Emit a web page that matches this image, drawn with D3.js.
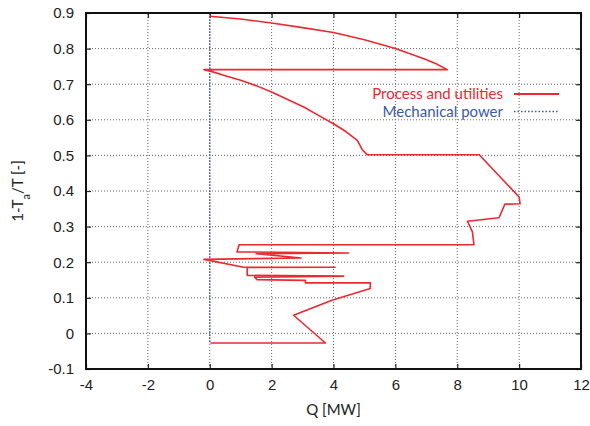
<!DOCTYPE html>
<html>
<head>
<meta charset="utf-8">
<script src="https://cdn.jsdelivr.net/npm/d3@7"></script>
<style>
  body { margin: 0; background: #fff; }
  svg { font-family: Lato, "Open Sans", sans-serif; }
</style>
</head>
<body>
<div id="container"></div>
<script>
// chart data
const processQ = [0, 1.0, 2.0, 3.0, 4.0, 5.0, 6.0, 6.9, 7.3, 7.68, -0.19, 0.05, 0.5, 1.0, 1.5, 2.0, 2.5, 3.04, 3.5, 4.0, 4.4, 4.77, 4.93, 5.09,
  8.71, 10.0, 10.03, 9.54, 9.35, 8.33, 8.49, 8.54, 0.95, 0.88, 4.49, 1.5, 2.95, -0.19,
  1.10, 4.05, 1.21, 1.21, 4.33, 1.45, 1.53, 3.09, 3.09, 5.19, 5.19, 3.95, 2.71, 3.74, 0.02];
const processT = [0.891, 0.883, 0.872, 0.859, 0.845, 0.825, 0.800, 0.772, 0.758, 0.741, 0.741, 0.736, 0.724, 0.711, 0.696, 0.678, 0.658, 0.636, 0.613, 0.589, 0.567, 0.542, 0.516, 0.502,
  0.502, 0.383, 0.364, 0.363, 0.325, 0.315, 0.285, 0.249, 0.249, 0.229, 0.226, 0.224, 0.212, 0.208,
  0.186, 0.186, 0.185, 0.163, 0.161, 0.158, 0.151, 0.149, 0.142, 0.142, 0.126, 0.093, 0.051, -0.027, -0.027];
const mechQ = [0, 0];
const mechT = [0.891, -0.027];
const xTicks = [-4, -2, 0, 2, 4, 6, 8, 10, 12];
const yTicks = [-0.1, 0, 0.1, 0.2, 0.3, 0.4, 0.5, 0.6, 0.7, 0.8, 0.9];
const legendNames = ['Process and utilities', 'Mechanical power'];

// svg dimensions
const w = 590;
const h = 426;
const m = { top: 13, right: 9, bottom: 57, left: 86 };
const red = '#ec2830';
const blue = '#3c59a8';

const svg = d3.select('#container')
  .append('svg')
  .attr('width', w)
  .attr('height', h);

// scales
const xScale = d3.scaleLinear().domain([-4, 12]).range([m.left, w - m.right]);
const yScale = d3.scaleLinear().domain([-0.1, 0.9]).range([h - m.bottom, m.top]);

// grid lines
svg.append('g')
  .selectAll('line')
  .data(xTicks.slice(1, -1))
  .join('line')
  .attr('x1', d => xScale(d)).attr('x2', d => xScale(d))
  .attr('y1', yScale(-0.1)).attr('y2', yScale(0.9))
  .attr('stroke', '#666').attr('stroke-width', 1).attr('stroke-dasharray', '1,2');

svg.append('g')
  .selectAll('line')
  .data(yTicks.slice(1, -1))
  .join('line')
  .attr('x1', xScale(-4)).attr('x2', xScale(12))
  .attr('y1', d => yScale(d)).attr('y2', d => yScale(d))
  .attr('stroke', '#666').attr('stroke-width', 1).attr('stroke-dasharray', '1,2');

// axes (plain hyphen for negatives, like the original)
const xAxis = d3.axisBottom(xScale).tickValues(xTicks).tickSize(-5).tickPadding(10)
  .tickFormat(d => String(d));
const yAxis = d3.axisLeft(yScale).tickValues(yTicks).tickSize(-5).tickPadding(12)
  .tickFormat(d => d === 0 ? '0' : d.toFixed(1));
const xAxisTop = d3.axisTop(xScale).tickValues(xTicks).tickSize(-5).tickFormat('');
const yAxisRight = d3.axisRight(yScale).tickValues(yTicks).tickSize(-5).tickFormat('');

function styleAxis(g) {
  g.select('.domain').remove();
  g.selectAll('.tick line').attr('stroke', '#222').attr('stroke-width', 1.2);
  g.selectAll('.tick text').attr('fill', '#222').style('font-size', '15px');
}

svg.append('g').attr('transform', `translate(0, ${h - m.bottom})`).call(xAxis).call(styleAxis);
svg.append('g').attr('transform', `translate(${m.left}, 0)`).call(yAxis).call(styleAxis);
svg.append('g').attr('transform', `translate(0, ${m.top})`).call(xAxisTop).call(styleAxis);
svg.append('g').attr('transform', `translate(${w - m.right}, 0)`).call(yAxisRight).call(styleAxis);

// border
svg.append('rect')
  .attr('x', xScale(-4)).attr('y', yScale(0.9))
  .attr('width', xScale(12) - xScale(-4)).attr('height', yScale(-0.1) - yScale(0.9))
  .attr('fill', 'none').attr('stroke', '#111').attr('stroke-width', 2);

// lines
const line = d3.line().x(d => xScale(d[0])).y(d => yScale(d[1]));

svg.append('path')
  .datum(mechQ.map((q, i) => [q, mechT[i]]))
  .attr('d', line)
  .attr('fill', 'none').attr('stroke', blue).attr('stroke-width', 1.5).attr('stroke-dasharray', '1.5,1.5');

svg.append('path')
  .datum(processQ.map((q, i) => [q, processT[i]]))
  .attr('d', line)
  .attr('fill', 'none').attr('stroke', red).attr('stroke-width', 1.6).attr('stroke-linejoin', 'round');

// legend
const legend = svg.append('g');
legendNames.forEach((name, i) => {
  const y = 94 + i * 17.5;
  legend.append('text')
    .attr('x', 503).attr('y', y).attr('dy', '0.35em')
    .attr('text-anchor', 'end')
    .attr('fill', i === 0 ? red : blue)
    .style('font-size', '15px')
    .text(name);
  legend.append('line')
    .attr('x1', 514).attr('x2', 559).attr('y1', y).attr('y2', y)
    .attr('stroke', i === 0 ? red : blue)
    .attr('stroke-width', i === 0 ? 2 : 1.5)
    .attr('stroke-dasharray', i === 0 ? null : '1.5,2');
});

// axis titles
svg.append('text')
  .attr('x', (xScale(-4) + xScale(12)) / 2).attr('y', 415)
  .attr('text-anchor', 'middle').attr('fill', '#222')
  .style('font-size', '15px')
  .text('Q [MW]');

const yTitle = svg.append('text')
  .attr('transform', `translate(23, ${(yScale(-0.1) + yScale(0.9)) / 2}) rotate(-90)`)
  .attr('text-anchor', 'middle').attr('fill', '#222')
  .style('font-size', '15px');
yTitle.append('tspan').text('1-T');
yTitle.append('tspan').attr('baseline-shift', 'sub').style('font-size', '11px').text('a');
yTitle.append('tspan').text('/T [-]');
</script>
</body>
</html>
